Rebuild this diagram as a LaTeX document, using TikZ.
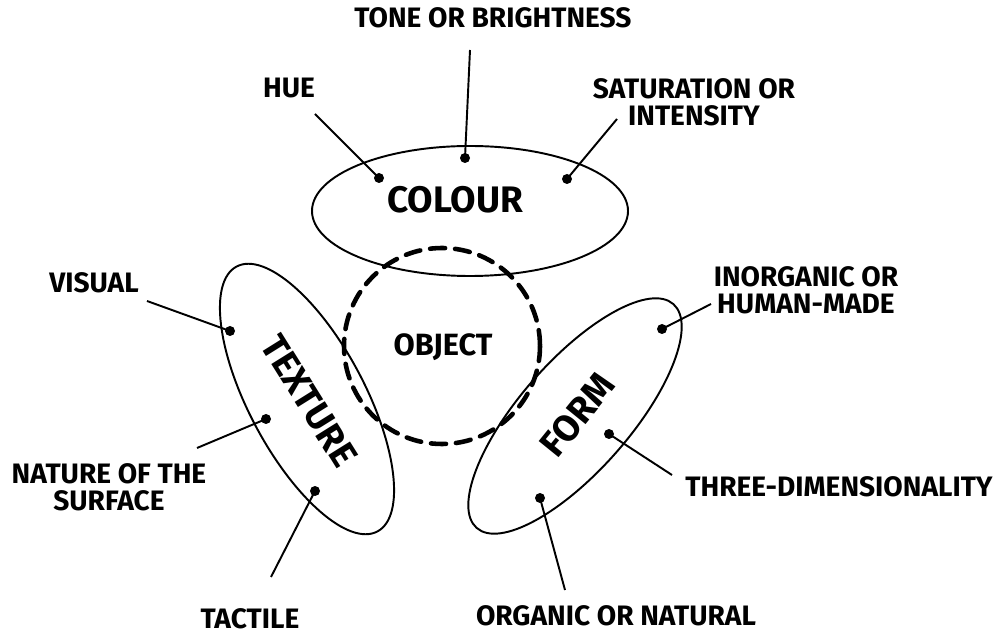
\documentclass[tikz,border=0pt]{standalone}
\usepackage{fontspec}
\setmainfont{Fira Sans}
\usetikzlibrary{positioning}
\begin{document}
\begin{tikzpicture}[x=0.02cm,y=-0.02cm,
  lbl/.style={font=\bfseries\fontsize{16}{15.5}\selectfont,align=center,inner sep=0pt},
  big/.style={font=\bfseries\fontsize{21}{22}\selectfont,inner sep=0pt},
  dot/.style={circle,fill,inner sep=0pt,minimum size=0.2cm},
  ring/.style={line width=1.1pt},
  a/.style={line width=1.1pt}]
\useasboundingbox (0,0) rectangle (997,634);
% outlines
\draw[ring] (470,211) ellipse[x radius=158,y radius=65];
\draw[ring,rotate around={-62:(307,399)}] (307,399) ellipse[x radius=150,y radius=58];
\draw[ring,rotate around={48.7:(575,416)}] (575,416) ellipse[x radius=149,y radius=55];
\draw[line width=2.6pt,dash pattern=on 0.3cm off 0.2cm,line cap=round] (442,346) circle[radius=98];
% main words
\node[big](colour) at (455,200){COLOUR};
\node[big,rotate=-58](texture) at (309,401){TEXTURE};
\node[big,rotate=51](form) at (577,415){FORM};
\node[big,font=\bfseries\fontsize{17.5}{19}\selectfont](object) at (443,347){OBJECT};
% labels
\node[lbl](hue) at (289,88){HUE};
\node[lbl](tone) at (493,18){TONE OR BRIGHTNESS};
\node[lbl](sat) at (694,102){SATURATION OR\\INTENSITY};
\node[lbl](visual) at (94,283){VISUAL};
\node[lbl](nature) at (109,487){NATURE OF THE\\SURFACE};
\node[lbl](tactile) at (250,619){TACTILE};
\node[lbl](inorg) at (806,290){INORGANIC OR\\HUMAN-MADE};
\node[lbl](three) at (839,487){THREE-DIMENSIONALITY};
\node[lbl](organic) at (616,616){ORGANIC OR NATURAL};
% dots
\node[dot](hueDot) at (379,178){};
\node[dot](toneDot) at (465,158){};
\node[dot](satDot) at (567,179){};
\node[dot](visDot) at (230,331){};
\node[dot](natDot) at (266,419){};
\node[dot](tacDot) at (315,491){};
\node[dot](inoDot) at (662,329){};
\node[dot](thrDot) at (609,434){};
\node[dot](orgDot) at (540,498){};
% line ends
\coordinate(hueEnd) at (315,114);
\coordinate(toneEnd) at (470,50);
\coordinate(satEnd) at (617,119);
\coordinate(visEnd) at (147,301);
\coordinate(natEnd) at (197,448);
\coordinate(tacEnd) at (271,577);
\coordinate(inoEnd) at (711,304);
\coordinate(thrEnd) at (672,475);
\coordinate(orgEnd) at (565,590);
\foreach \a/\b in {hueEnd/hueDot,toneEnd/toneDot,satEnd/satDot,visEnd/visDot,natEnd/natDot,tacEnd/tacDot,inoEnd/inoDot,thrEnd/thrDot,orgEnd/orgDot}\draw[a](\a)--(\b.center);
\end{tikzpicture}
\end{document}
